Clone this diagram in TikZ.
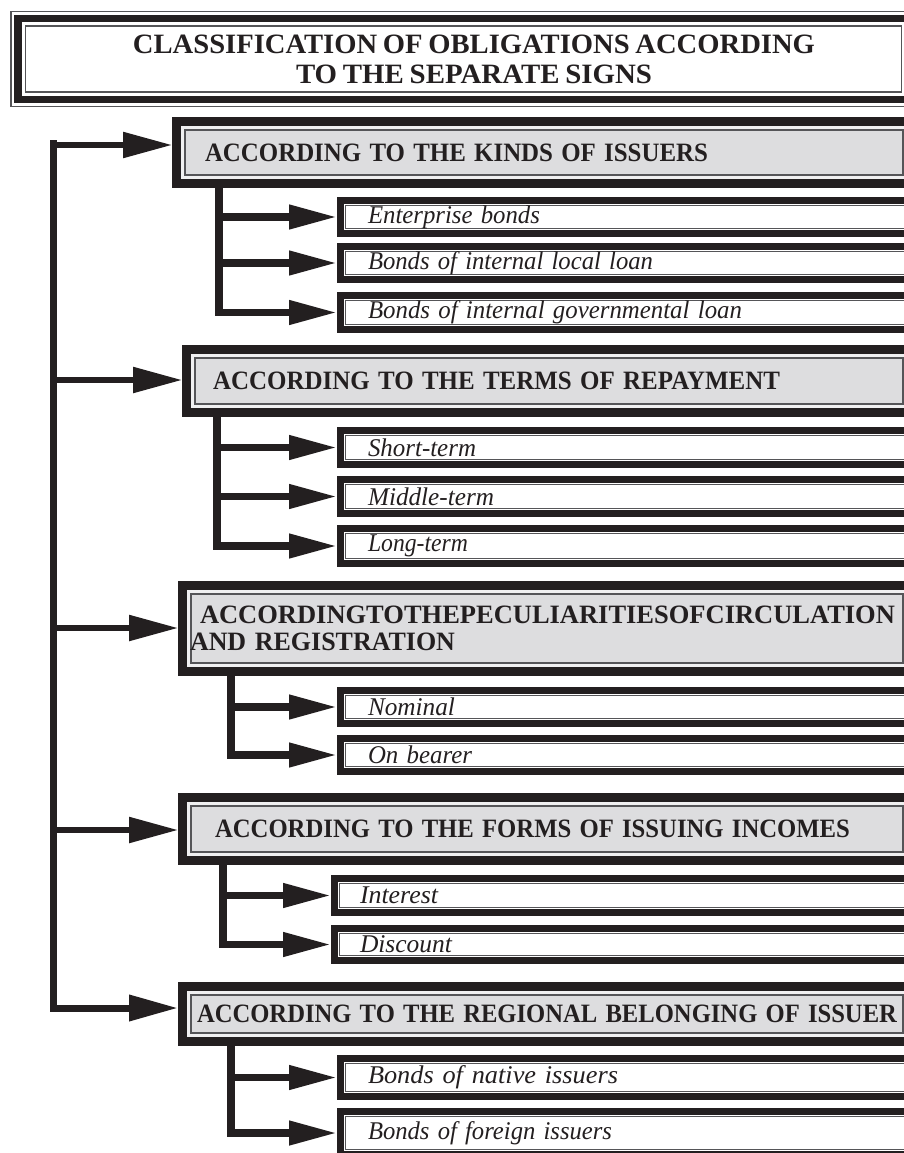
\documentclass[tikz,border=0pt]{standalone}
\usepackage{graphicx}
\usepackage{fontspec}
\setmainfont[WordSpace=0.8]{Liberation Serif}
\usetikzlibrary{arrows.meta}

\definecolor{ink}{RGB}{35,31,32}
\definecolor{hdrfill}{RGB}{221,221,223}
\definecolor{rulegray}{RGB}{85,85,88}
\definecolor{gapgray}{RGB}{240,240,241}

% set a line of text at a given width (in pt), scaling it horizontally only
\newcommand\fittext[2]{{\setbox0=\hbox{#2}%
  \pgfmathsetmacro\fitratio{#1/\the\wd0}%
  \scalebox{\fitratio}[1]{\box0}}}

\tikzset{
  titlebox/.style={rectangle, draw=ink, line width=7.5pt, fill=white,
    inner sep=0pt, outer sep=0pt, align=center, text=ink,
    font=\bfseries\fontsize{28}{30}\selectfont,
    path picture={
      \draw[line width=1.8pt, rulegray]
        ([shift={(7.5pt,7.5pt)}]path picture bounding box.south west) rectangle
        ([shift={(-7.5pt,-7.5pt)}]path picture bounding box.north east);
    }},
  hdrbox/.style={rectangle, anchor=west, draw=ink, line width=9pt, fill=hdrfill,
    inner xsep=0pt, inner ysep=0pt, align=left, text=ink,
    font=\bfseries\fontsize{26.5}{27}\selectfont,
    path picture={
      \draw[line width=3pt, gapgray]
        ([shift={(6pt,6pt)}]path picture bounding box.south west) rectangle
        ([shift={(-6pt,-6pt)}]path picture bounding box.north east);
      \draw[line width=1.6pt, rulegray]
        ([shift={(8.3pt,8.3pt)}]path picture bounding box.south west) rectangle
        ([shift={(-8.3pt,-8.3pt)}]path picture bounding box.north east);
    }},
  itembox/.style={rectangle, anchor=west, draw=ink, line width=7pt, fill=white,
    inner xsep=0pt, inner ysep=0pt, align=left, text=ink, text width=589.5pt,
    font=\itshape\fontsize{25.5}{27}\selectfont,
    path picture={
      \draw[line width=1pt, rulegray]
        ([shift={(4.8pt,4.8pt)}]path picture bounding box.south west) rectangle
        ([shift={(-4.8pt,-4.8pt)}]path picture bounding box.north east);
    }},
  mainarr/.style={draw=ink, line width=5.5pt, -{Triangle[length=49pt,width=25pt]}},
  subarr/.style={draw=ink, line width=7.5pt, -{Triangle[length=48pt,width=23pt]}},
}

\begin{document}
\begin{tikzpicture}[x=1pt,y=-1pt,line join=miter]
\useasboundingbox (0,0) rectangle (904,1153);
\clip (0,0) rectangle (904,1153);

% title frame
\node[titlebox, minimum width=891pt, minimum height=81pt] (title) at (463.5,59)
  {\hspace*{21pt}\fittext{682}{CLASSIFICATION OF OBLIGATIONS ACCORDING}\\
   \hspace*{21pt}\fittext{356}{TO THE SEPARATE SIGNS}};
\draw[line width=1.6pt, rulegray]
  ([shift={(-7pt,-7pt)}]title.south west) rectangle ([shift={(7pt,7pt)}]title.north east);

% group headers
\node[hdrbox, text width=734.5pt, minimum height=62pt] (h1) at (172,152.5)
  {\hspace*{28.5pt}\fittext{503}{ACCORDING TO THE KINDS OF ISSUERS}};
\node[hdrbox, text width=724.5pt, minimum height=63pt] (h2) at (182,381)
  {\hspace*{26.5pt}\fittext{567}{ACCORDING TO THE TERMS OF REPAYMENT}};
\node[hdrbox, text width=728.5pt, minimum height=86pt] (h3) at (178,628.5)
  {\hspace*{17.5pt}\fittext{695}{ACCORDINGTOTHEPECULIARITIESOFCIRCULATION}\\
   \hspace*{7.5pt}\fittext{265}{AND REGISTRATION}};
\node[hdrbox, text width=728.5pt, minimum height=63pt] (h4) at (178,829)
  {\hspace*{32.5pt}\fittext{635}{ACCORDING TO THE FORMS OF ISSUING INCOMES}};
\node[hdrbox, text width=728.5pt, minimum height=55pt] (h5) at (178,1014)
  {\hspace*{14.5pt}\fittext{700}{ACCORDING TO THE REGIONAL BELONGING OF ISSUER}};

% items of each group
\node[itembox, minimum height=33pt] (e1) at (337,217)   {\hspace*{27.5pt}\fittext{172}{Enterprise bonds}};
\node[itembox, minimum height=33pt] (e2) at (337,263)   {\hspace*{27.5pt}\fittext{285}{Bonds of internal local loan}};
\node[itembox, minimum height=34pt] (e3) at (337,312.5) {\hspace*{27.5pt}\fittext{374}{Bonds of internal governmental loan}};

\node[itembox, minimum height=34pt] (r1) at (337,447.5) {\hspace*{27.5pt}\fittext{108}{Short-term}};
\node[itembox, minimum height=34pt] (r2) at (337,496.5) {\hspace*{27.5pt}\fittext{126}{Middle-term}};
\node[itembox, minimum height=35pt] (r3) at (337,546)   {\hspace*{27.5pt}\fittext{100}{Long-term}};

\node[itembox, minimum height=33pt] (c1) at (337,707)   {\hspace*{27.5pt}\fittext{87}{Nominal}};
\node[itembox, minimum height=33pt] (c2) at (337,755)   {\hspace*{27.5pt}\fittext{104}{On bearer}};

\node[itembox, minimum height=34pt, text width=595.5pt] (i1) at (331,895.5) {\hspace*{25.5pt}\fittext{78}{Interest}};
\node[itembox, minimum height=32pt, text width=595.5pt] (i2) at (331,944.5) {\hspace*{25.5pt}\fittext{92}{Discount}};

\node[itembox, minimum height=38pt] (g1) at (337,1077.5) {\hspace*{27.5pt}\fittext{250}{Bonds of native issuers}};
\node[itembox, minimum height=43pt] (g2) at (337,1133)   {\hspace*{27.5pt}\fittext{244}{Bonds of foreign issuers}};

% main trunk and arrows to the headers
\coordinate (top) at (53,140);
\coordinate (a1) at (53,145);
\coordinate (a2) at (53,380);
\coordinate (a3) at (53,628);
\coordinate (a4) at (53,830);
\coordinate (a5) at (53,1008);
\draw[mainarr, line width=7pt] (top) -- (a5) -- (a5 -| h5.west);
\draw[mainarr] (a1) -- (a1 -| h1.west);
\draw[mainarr] (a2) -- (a2 -| h2.west);
\draw[mainarr] (a3) -- (a3 -| h3.west);
\draw[mainarr] (a4) -- (a4 -| h4.west);

% branch lines under each header
\coordinate (s1) at (219,0);
\coordinate (s2) at (217,0);
\coordinate (s3) at (231,0);
\coordinate (s4) at (223,0);
\coordinate (s5) at (231,0);

\draw[subarr] (s1 |- h1.south) -- (s1 |- e3.west) -- (e3.west);
\draw[subarr] (s1 |- e1.west) -- (e1.west);
\draw[subarr] (s1 |- e2.west) -- (e2.west);

\draw[subarr] (s2 |- h2.south) -- (s2 |- r3.west) -- (r3.west);
\draw[subarr] (s2 |- r1.west) -- (r1.west);
\draw[subarr] (s2 |- r2.west) -- (r2.west);

\draw[subarr] (s3 |- h3.south) -- (s3 |- c2.west) -- (c2.west);
\draw[subarr] (s3 |- c1.west) -- (c1.west);

\draw[subarr] (s4 |- h4.south) -- (s4 |- i2.west) -- (i2.west);
\draw[subarr] (s4 |- i1.west) -- (i1.west);

\draw[subarr] (s5 |- h5.south) -- (s5 |- g2.west) -- (g2.west);
\draw[subarr] (s5 |- g1.west) -- (g1.west);
\end{tikzpicture}
\end{document}
